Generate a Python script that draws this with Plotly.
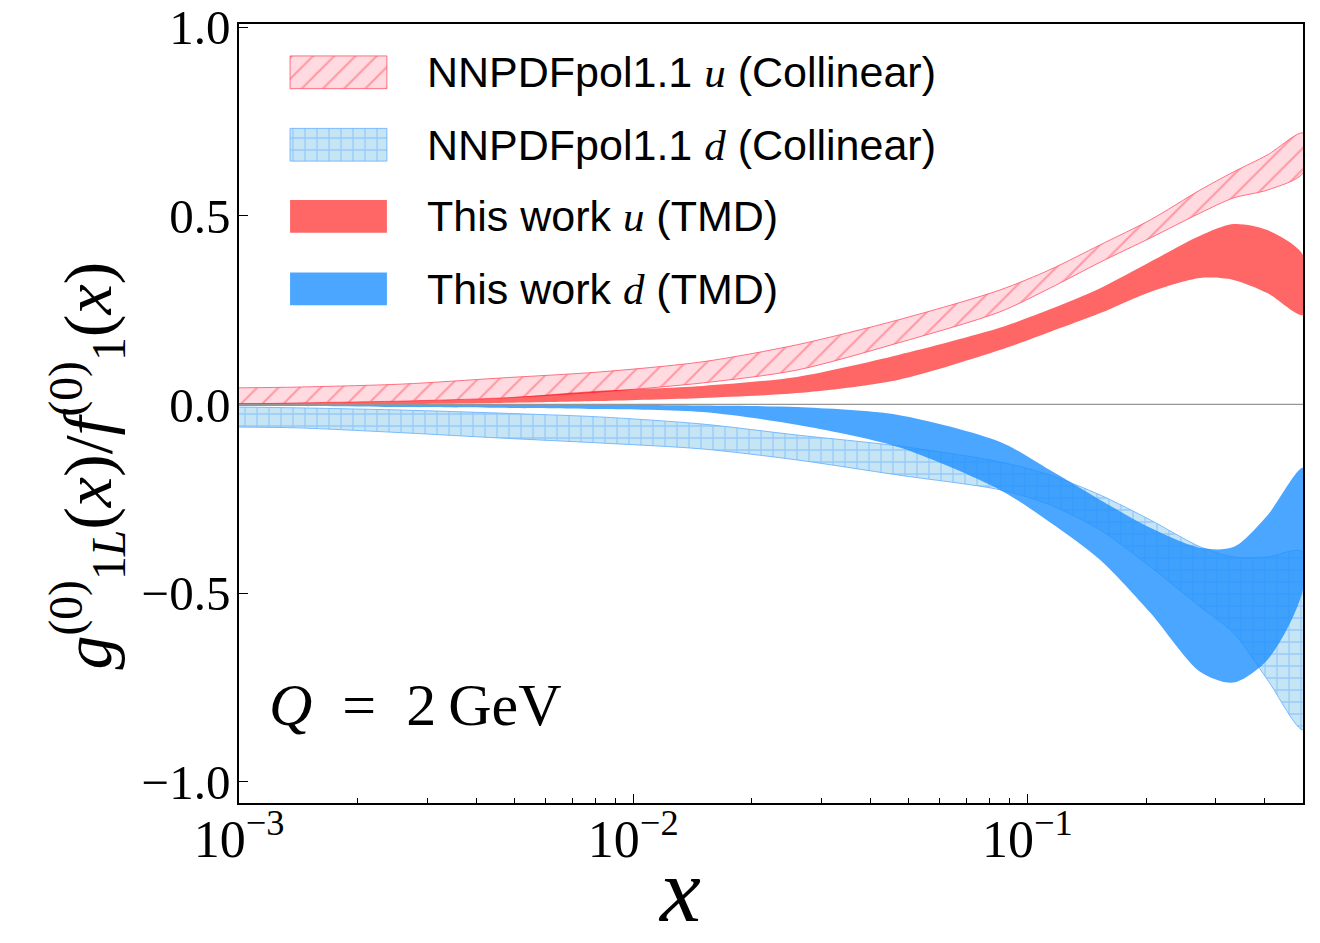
import plotly.graph_objects as go

# Momentum fraction grid (log-spaced sampling of the bands)
x_grid = [0.001, 0.0014, 0.0026, 0.0046, 0.0082, 0.015, 0.026, 0.047,
          0.085, 0.114, 0.153, 0.205, 0.274, 0.333, 0.406, 0.5]

# NNPDFpol1.1 collinear ratios (upper / lower edge of the uncertainty band)
nnpdf_u_hi = [0.044, 0.046, 0.054, 0.070, 0.086, 0.113, 0.158, 0.224,
              0.303, 0.357, 0.423, 0.489, 0.568, 0.616, 0.661, 0.719]
nnpdf_u_lo = [0.001, 0.004, 0.009, 0.017, 0.033, 0.057, 0.091, 0.163,
              0.245, 0.308, 0.377, 0.441, 0.507, 0.547, 0.568, 0.613]
nnpdf_d_hi = [-0.007, -0.009, -0.015, -0.023, -0.033, -0.052, -0.081, -0.110,
              -0.152, -0.187, -0.240, -0.306, -0.377, -0.404, -0.404, -0.391]
nnpdf_d_lo = [-0.060, -0.062, -0.075, -0.089, -0.102, -0.118, -0.147, -0.187,
              -0.226, -0.266, -0.333, -0.430, -0.536, -0.605, -0.729, -0.862]

# TMD extraction ratios (upper / lower edge)
tmd_u_hi = [0.004, 0.004, 0.009, 0.017, 0.036, 0.049, 0.073, 0.131,
            0.203, 0.252, 0.308, 0.378, 0.447, 0.478, 0.462, 0.396]
tmd_u_lo = [0.000, 0.000, 0.001, 0.004, 0.009, 0.017, 0.030, 0.065,
            0.144, 0.192, 0.242, 0.298, 0.335, 0.330, 0.295, 0.237]
tmd_d_hi = [0.000, 0.000, 0.000, -0.001, -0.001, -0.003, -0.007, -0.028,
            -0.099, -0.174, -0.253, -0.327, -0.380, -0.378, -0.294, -0.168]
tmd_d_lo = [-0.004, -0.004, -0.007, -0.009, -0.012, -0.020, -0.054, -0.113,
            -0.226, -0.312, -0.412, -0.552, -0.708, -0.737, -0.677, -0.491]

x_tick_vals = [1e-3, 1e-2, 1e-1]
x_tick_text = ["10<sup>\u22123</sup>", "10<sup>\u22122</sup>", "10<sup>\u22121</sup>"]
y_tick_vals = [-1.0, -0.5, 0.0, 0.5, 1.0]
y_tick_text = ["\u22121.0", "\u22120.5", "0.0", "0.5", "1.0"]

SERIF = "Liberation Serif, DejaVu Serif, serif"
SANS = "Liberation Sans, Arial, sans-serif"

styles = {
    "nnpdf_u": dict(line=dict(color="rgba(255,90,110,0.85)", width=1),
                    fillpattern=dict(shape="/", bgcolor="rgb(255,218,224)",
                                     fgcolor="rgba(255,70,90,0.9)", size=15,
                                     solidity=0.14)),
    "nnpdf_d": dict(line=dict(color="rgba(110,180,255,0.9)", width=1),
                    fillpattern=dict(shape="+", bgcolor="rgb(198,229,244)",
                                     fgcolor="rgba(95,170,255,0.95)", size=12,
                                     solidity=0.2)),
    "tmd_u": dict(line=dict(width=0), fillcolor="rgba(255,0,0,0.6)"),
    "tmd_d": dict(line=dict(width=0), fillcolor="rgba(30,144,255,0.8)"),
}

fig = go.Figure()


def band(hi, lo, key):
    xs = x_grid + x_grid[::-1]
    ys = hi + lo[::-1]
    st = styles[key]
    kw = dict(x=xs, y=ys, mode="lines", fill="toself", showlegend=False,
              hoverinfo="skip")
    line = dict(st["line"])
    line["shape"] = "spline"
    line["smoothing"] = 0.8
    kw["line"] = line
    if "fillpattern" in st:
        kw["fillpattern"] = st["fillpattern"]
        kw["fillcolor"] = st["fillpattern"]["bgcolor"]
    else:
        kw["fillcolor"] = st["fillcolor"]
    fig.add_trace(go.Scatter(**kw))


band(nnpdf_u_hi, nnpdf_u_lo, "nnpdf_u")
band(nnpdf_d_hi, nnpdf_d_lo, "nnpdf_d")
band(tmd_u_hi, tmd_u_lo, "tmd_u")
band(tmd_d_hi, tmd_d_lo, "tmd_d")

# Legend: swatches drawn on an overlay axis in plot-fraction units
legend_rows = [
    ("nnpdf_u", "NNPDFpol1.1 <i><span style='font-family:Liberation Serif'>u</span></i> (Collinear)"),
    ("nnpdf_d", "NNPDFpol1.1 <i><span style='font-family:Liberation Serif'>d</span></i> (Collinear)"),
    ("tmd_u", "This work <i><span style='font-family:Liberation Serif'>u</span></i> (TMD)"),
    ("tmd_d", "This work <i><span style='font-family:Liberation Serif'>d</span></i> (TMD)"),
]
row_y = [0.938, 0.845, 0.753, 0.660]
sw_x0, sw_x1, sw_h = 0.048, 0.139, 0.021
for (key, label), yc in zip(legend_rows, row_y):
    st = styles[key]
    kw = dict(x=[sw_x0, sw_x1, sw_x1, sw_x0, sw_x0],
              y=[yc - sw_h, yc - sw_h, yc + sw_h, yc + sw_h, yc - sw_h],
              mode="lines", fill="toself", xaxis="x2", yaxis="y2",
              showlegend=False, hoverinfo="skip", line=st["line"])
    if "fillpattern" in st:
        kw["fillpattern"] = st["fillpattern"]
        kw["fillcolor"] = st["fillpattern"]["bgcolor"]
    else:
        kw["fillcolor"] = st["fillcolor"]
    fig.add_trace(go.Scatter(**kw))
    fig.add_annotation(x=0.175, y=yc, xref="paper", yref="paper",
                       text=label, showarrow=False, xanchor="left",
                       yanchor="middle",
                       font=dict(family=SANS, size=43, color="black"))

fig.add_annotation(x=0.026, y=0.126, xref="paper", yref="paper",
                   text="<i>Q</i>\u2002=\u20022\u2009GeV", showarrow=False,
                   xanchor="left", yanchor="middle",
                   font=dict(family=SERIF, size=60, color="black"))

fig.add_annotation(x=0.414, y=-0.1797, xref="paper", yref="paper",
                   text="<i>x</i>", showarrow=False, xanchor="center",
                   yanchor="bottom", font=dict(family=SERIF, size=92, color="black"))

fig.add_annotation(x=-0.142, y=0.433, xref="paper", yref="paper",
                   text="<i>g</i><sup>(0)</sup><sub>1<i>L</i></sub>(<i>x</i>)/<i>f</i><sup>(0)</sup><sub>1</sub>(<i>x</i>)",
                   showarrow=False, textangle=-90, xanchor="center",
                   yanchor="middle", font=dict(family=SERIF, size=68, color="black"))

# zero reference line
fig.add_shape(type="line", xref="paper", yref="y", x0=0, x1=1, y0=0, y1=0,
              line=dict(color="rgb(150,150,150)", width=1.2), layer="above")

minor_vals = [k * 10.0 ** e for e in (-3, -2, -1) for k in range(2, 10)
              if k * 10.0 ** e <= 0.5]

fig.update_layout(
    width=1320, height=943,
    margin=dict(l=239, r=17, t=24, b=140, autoexpand=False),
    paper_bgcolor="white", plot_bgcolor="white",
    showlegend=False,
    xaxis=dict(type="log", range=[-3, -0.30103], tickmode="array",
               tickvals=x_tick_vals, ticktext=x_tick_text, automargin=False,
               ticks="inside", ticklen=9, tickwidth=1.2, tickcolor="black",
               showline=True, linecolor="black", linewidth=1.5, mirror=True,
               showgrid=False, zeroline=False,
               tickfont=dict(family=SERIF, size=52, color="black"),
               ticklabelstandoff=-10,
               minor=dict(tickmode="array", tickvals=minor_vals, ticks="inside",
                          ticklen=5, tickwidth=1, tickcolor="black", showgrid=False)),
    yaxis=dict(range=[-1.056, 1.008], tickmode="array",
               tickvals=y_tick_vals, ticktext=y_tick_text, automargin=False,
               ticks="inside", ticklen=9, tickwidth=1.2, tickcolor="black",
               showline=True, linecolor="black", linewidth=1.5, mirror=True,
               showgrid=False, zeroline=False,
               tickfont=dict(family=SERIF, size=49, color="black"),
               ticklabelstandoff=-3),
    xaxis2=dict(overlaying="x", range=[0, 1], visible=False, anchor="y2"),
    yaxis2=dict(overlaying="y", range=[0, 1], visible=False, anchor="x2"),
)

fig.write_html("out.html")
